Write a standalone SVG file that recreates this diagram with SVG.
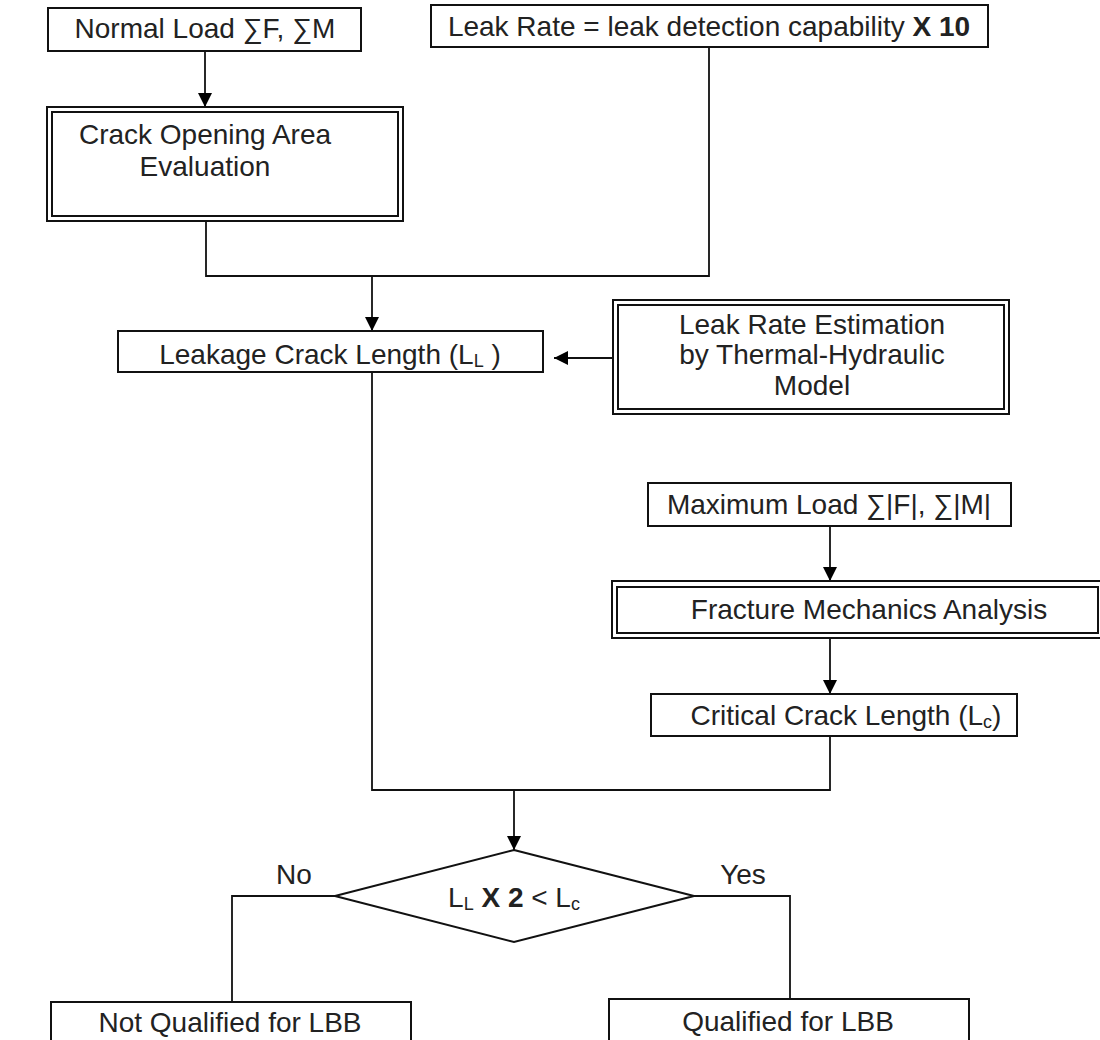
<svg xmlns="http://www.w3.org/2000/svg" width="1100" height="1040" viewBox="0 0 1100 1040">
<defs>
<marker id="arr" markerUnits="userSpaceOnUse" markerWidth="14" markerHeight="14" refX="14" refY="7" orient="auto">
<path d="M0,0 L14,7 L0,14 z" fill="#000"/>
</marker>
<style>
.box{fill:#fff;stroke:#111;stroke-width:2}
.t{font-family:"Liberation Sans",Arial,"DejaVu Sans",sans-serif;font-size:28px;fill:#222;text-anchor:middle}
.b{font-weight:bold}
.sub{font-size:18px}
.ln{fill:none;stroke:#111;stroke-width:1.8}
</style>
</defs>
<rect width="1100" height="1040" fill="#fff"/>

<g id="connectors">
<path class="ln" d="M205,51 V107" marker-end="url(#arr)"/>
<path class="ln" d="M206,221 V276 H709 V47"/>
<path class="ln" d="M372,276 V331" marker-end="url(#arr)"/>
<path class="ln" d="M612,358 H554" marker-end="url(#arr)"/>
<path class="ln" d="M830,526 V581" marker-end="url(#arr)"/>
<path class="ln" d="M830,638 V694" marker-end="url(#arr)"/>
<path class="ln" d="M372,372 V790 H830 V736"/>
<path class="ln" d="M514,790 V850" marker-end="url(#arr)"/>
<path class="ln" d="M335,896 H232 V1002"/>
<path class="ln" d="M694,896 H790 V999"/>
</g>

<g id="normal-load">
<rect class="box" x="48" y="8" width="313" height="43"/>
<text class="t" x="205" y="38">Normal Load ∑F, ∑M</text>
</g>

<g id="leak-rate">
<rect class="box" x="431" y="5" width="557" height="42"/>
<text class="t" x="709" y="36">Leak Rate = leak detection capability <tspan class="b">X 10</tspan></text>
</g>

<g id="crack-opening">
<rect class="box" x="47" y="107" width="356" height="114"/>
<rect class="box" x="52" y="112" width="346" height="104"/>
<text class="t" x="205" y="144">Crack Opening Area</text>
<text class="t" x="205" y="176">Evaluation</text>
</g>

<g id="leakage-length">
<rect class="box" x="118" y="331" width="425" height="41"/>
<text class="t" x="330" y="364">Leakage Crack Length  (L<tspan class="sub" dy="3">L</tspan><tspan dy="-3"> )</tspan></text>
</g>

<g id="leak-estimation">
<rect class="box" x="613" y="300" width="396" height="114"/>
<rect class="box" x="618" y="305" width="386" height="104"/>
<text class="t" x="812" y="334">Leak Rate Estimation</text>
<text class="t" x="812" y="364">by Thermal-Hydraulic</text>
<text class="t" x="812" y="395">Model</text>
</g>

<g id="maximum-load">
<rect class="box" x="648" y="483" width="363" height="43"/>
<text class="t" x="829" y="514">Maximum Load ∑|F|, ∑|M|</text>
</g>

<g id="fracture">
<rect class="box" x="612" y="581" width="491" height="57"/>
<rect class="box" x="617" y="587" width="481" height="46"/>
<text class="t" x="869" y="619">Fracture Mechanics Analysis</text>
</g>

<g id="critical-length">
<rect class="box" x="651" y="694" width="366" height="42"/>
<text class="t" x="846" y="725">Critical Crack Length  (L<tspan class="sub" dy="3">c</tspan><tspan dy="-3">)</tspan></text>
</g>

<g id="decision">
<polygon class="box" points="514,850 694,896 514,942 335,896"/>
<text class="t" x="514" y="907">L<tspan class="sub" dy="3">L</tspan><tspan class="b" dy="-3"> X 2</tspan> &lt; L<tspan class="sub" dy="3">c</tspan></text>
<text class="t" x="294" y="884">No</text>
<text class="t" x="743" y="884">Yes</text>
</g>

<g id="not-qualified">
<rect class="box" x="51" y="1002" width="360" height="50"/>
<text class="t" x="230" y="1032">Not Qualified for LBB</text>
</g>

<g id="qualified">
<rect class="box" x="609" y="999" width="360" height="53"/>
<text class="t" x="788" y="1031">Qualified for LBB</text>
</g>
</svg>
